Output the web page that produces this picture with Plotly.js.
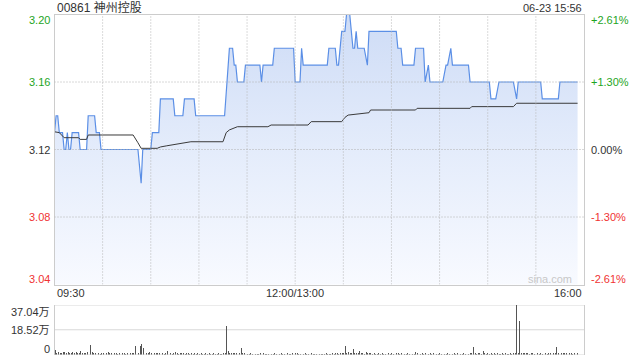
<!DOCTYPE html>
<html>
<head>
<meta charset="utf-8">
<script src="https://cdn.plot.ly/plotly-3.0.1.min.js"></script>
<style>html,body{margin:0;padding:0;background:#fff;}#chart{width:640px;height:360px;}</style>
</head>
<body>
<div id="chart"></div>
<script>
// ---- data ----
const stockTitle = "00861 神州控股";
const stampText = "06-23 15:56";
const prevClose = 3.12;

const priceTimes = ["09:30","09:31","09:32","09:33","09:35","09:36","09:37","09:38","09:39","09:40","09:41","09:45","09:46","09:50","09:51","09:55","09:56","09:58","09:59","10:22","10:24","10:25","10:30","10:31","10:35","10:36","10:44","10:45","10:50","10:51","10:57","10:58","11:16","11:19","11:21","11:22","11:23","11:24","11:28","11:29","11:38","11:39","11:40","11:46","11:47","11:59","12:00","13:03","13:04","13:05","13:19","13:20","13:21","13:25","13:26","13:27","13:29","13:31","13:32","13:34","13:36","13:37","13:38","13:39","13:43","13:45","13:46","14:03","14:04","14:06","14:07","14:14","14:15","14:20","14:21","14:23","14:24","14:32","14:34","14:35","14:37","14:38","14:48","14:49","15:01","15:02","15:05","15:07","15:16","15:18","15:19","15:33","15:34","15:44","15:45","15:56"];
const priceValues = [3.13,3.14,3.14,3.13,3.13,3.12,3.12,3.13,3.12,3.12,3.13,3.13,3.12,3.12,3.14,3.14,3.13,3.13,3.12,3.12,3.10,3.12,3.12,3.13,3.13,3.15,3.15,3.14,3.14,3.15,3.15,3.14,3.14,3.18,3.18,3.17,3.17,3.16,3.16,3.17,3.17,3.16,3.17,3.17,3.18,3.18,3.16,3.16,3.18,3.17,3.17,3.17,3.18,3.18,3.17,3.17,3.19,3.19,3.20,3.20,3.18,3.18,3.19,3.18,3.18,3.17,3.19,3.19,3.18,3.18,3.17,3.17,3.18,3.18,3.16,3.17,3.16,3.16,3.17,3.17,3.18,3.17,3.17,3.16,3.16,3.15,3.15,3.16,3.16,3.15,3.16,3.16,3.15,3.15,3.16,3.16];

const avgTimes = ["09:30","09:33","09:36","09:45","09:46","09:50","09:51","10:19","10:22","10:24","10:34","10:36","10:40","10:46","10:50","10:55","11:15","11:17","11:19","11:22","11:24","11:43","11:45","13:08","13:10","13:29","13:31","13:33","13:40","13:46","13:47","14:15","14:16","14:49","14:50","15:16","15:18","15:56"];
const avgValues = [3.1305,3.130,3.127,3.127,3.126,3.126,3.1286,3.1286,3.124,3.1207,3.1207,3.1215,3.1222,3.1230,3.1237,3.1246,3.1246,3.1300,3.1316,3.1325,3.1335,3.1335,3.1345,3.1345,3.1365,3.1365,3.139,3.1404,3.1412,3.1418,3.1434,3.1434,3.1444,3.1444,3.1454,3.1454,3.1474,3.1474];

// volume per minute (万), minute 0 = 09:30 ... 326 = 15:56
const volumes = [
3.3,1.2,2.0,1.5,0.8,2.2,1.6,1.0,1.8,1.3,
0.9,1.7,1.4,2.1,1.0,1.2,2.4,0.8,1.5,1.1,
1.6,1.3,7.0,1.8,0.9,1.4,2.0,1.1,0.7,1.5,
1.2,7.8,1.0,1.6,0.8,1.3,0.6,1.1,0.9,0.7,
1.0,0.6,0.8,1.2,0.7,0.9,0.5,1.1,0.8,1.4,
6.5,1.2,0.9,6.5,7.8,4.5,2.0,1.3,1.0,1.6,
1.1,2.8,0.9,1.4,0.8,1.2,2.8,1.0,0.7,1.5,
2.5,0.9,1.2,0.6,1.0,1.8,0.8,0.7,1.1,0.9,
1.3,0.6,0.8,1.0,0.5,0.9,0.7,1.2,0.6,0.8,
0.5,0.9,0.7,0.6,1.0,0.5,0.8,0.6,0.7,0.9,
0.6,0.5,0.8,0.7,0.6,0.9,1.2,21.6,2.8,1.0,
0.8,1.1,0.9,1.5,3.3,1.0,5.0,1.2,0.8,0.9,
0.7,0.6,0.9,0.5,0.8,0.6,0.7,0.5,0.9,0.6,
0.8,0.5,0.7,0.6,0.9,0.5,0.6,0.8,0.5,0.7,
0.6,0.9,0.5,0.7,0.6,0.8,0.5,0.6,0.9,1.0,
1.2,0.8,0.6,0.7,1.0,0.5,0.8,0.6,0.7,0.5,
0.9,0.6,0.7,0.5,0.8,0.6,0.5,0.7,0.6,0.8,
0.5,0.7,0.6,0.9,0.5,0.8,1.0,0.7,1.2,1.5,
1.0,6.5,1.3,2.0,1.1,0.9,4.0,1.2,0.8,1.5,
2.5,0.9,1.1,0.7,2.0,0.8,1.0,1.3,0.6,0.8,
0.7,0.5,0.9,0.6,0.8,0.5,0.7,0.6,0.9,0.5,
0.8,0.6,0.7,1.0,0.9,0.6,0.8,0.5,0.7,0.6,
0.9,0.5,0.8,0.6,0.7,2.0,0.9,0.6,0.5,0.8,
0.6,1.0,0.7,0.5,0.8,0.6,0.9,0.5,0.7,0.6,
0.8,0.5,0.9,0.7,0.6,0.8,0.5,0.7,0.6,0.9,
0.5,0.8,0.6,0.7,0.5,0.9,0.6,0.8,0.7,1.2,
0.9,5.8,1.0,0.7,0.8,1.1,0.6,2.8,0.9,0.7,
0.8,0.6,1.0,0.7,0.9,0.6,0.8,0.5,0.7,0.9,
0.6,0.8,0.5,0.7,0.9,0.6,1.2,0.8,37.04,1.0,
24.7,1.5,0.9,1.1,0.8,1.3,0.7,0.9,1.0,0.6,
0.8,1.1,0.7,0.9,0.6,1.0,0.8,0.7,1.2,0.9,
0.6,0.8,1.0,5.3,1.2,10.8,1.4,0.9,1.1,0.8,
0.7,1.0,0.9,0.6,1.2,0.8,1.0];

const priceTicks = [3.04, 3.08, 3.12, 3.16, 3.20];
const pctTicks = ["-2.61%", "-1.30%", "0.00%", "+1.30%", "+2.61%"];
const volTicks = [0, 18.52, 37.04];
const volTickText = ["0", "18.52万", "37.04万"];
const timeTickText = ["09:30", "12:00/13:00", "16:00"];
const timeTickPos = [0, 150, 330];
const gridTimes = [30, 60, 90, 120, 150, 180, 210, 240, 270, 300];

// ---- helpers ----
function toIdx(t) {
  const p = t.split(":").map(Number);
  const mins = p[0] * 60 + p[1];
  return mins <= 720 ? mins - 570 : 150 + (mins - 780);
}
const W = 640, H = 360;
const px = v => v / W;
const py = v => 1 - v / H;
const X0 = 54.5, X1 = 584;
const FONT = "Liberation Sans, Arial, Noto Sans CJK SC, sans-serif";
const GREEN = "#1ea51e", RED = "#f03333", DARK = "#333333";

const priceX = priceTimes.map(toIdx);
const avgX = avgTimes.map(toIdx);
const volX = volumes.map((v, i) => i);

const traces = [
  {
    type: "scatter", mode: "lines", x: priceX, y: priceValues,
    line: { color: "#5b8fe6", width: 1.2 },
    fill: "tozeroy",
    fillgradient: { type: "vertical", start: 3.04, stop: 3.20,
      colorscale: [[0, "rgb(248,250,255)"], [0.5, "rgb(228,236,251)"], [1, "rgb(206,220,246)"]] },
    hoverinfo: "skip", xaxis: "x", yaxis: "y"
  },
  {
    type: "scatter", mode: "lines", x: avgX, y: avgValues,
    line: { color: "#3a3a3a", width: 1 },
    hoverinfo: "skip", xaxis: "x", yaxis: "y"
  },
  {
    type: "bar", x: volX, y: volumes, width: 0.55,
    marker: { color: "#555555", line: { width: 0 } },
    hoverinfo: "skip", xaxis: "x2", yaxis: "y2"
  }
];

const annotations = [];
function ann(o) { annotations.push(Object.assign({ showarrow: false, font: { family: FONT, size: 11, color: DARK } }, o)); }

ann({ text: stockTitle, xref: "paper", yref: "paper", x: px(55), y: py(8), xanchor: "left", yanchor: "middle", font: { family: FONT, size: 12, color: DARK } });
ann({ text: stampText, xref: "paper", yref: "paper", x: px(584), y: py(8), xanchor: "right", yanchor: "middle", font: { family: FONT, size: 11, color: DARK } });

priceTicks.forEach((v, i) => {
  const col = v > prevClose ? GREEN : (v < prevClose ? RED : DARK);
  const shift = i === priceTicks.length - 1 ? -6 : (i === 0 ? 6 : 0);
  ann({ text: v.toFixed(2), xref: "paper", yref: "y", x: px(X0 - 3), y: v, yshift: shift, xanchor: "right", yanchor: "middle", font: { family: FONT, size: 11, color: col } });
  ann({ text: pctTicks[i], xref: "paper", yref: "y", x: px(X1 + 5), y: v, yshift: shift, xanchor: "left", yanchor: "middle", font: { family: FONT, size: 11, color: col } });
});

timeTickText.forEach((t, i) => {
  const anchor = i === 0 ? "left" : (i === timeTickText.length - 1 ? "right" : "center");
  ann({ text: t, xref: "x", yref: "paper", x: timeTickPos[i], y: py(293), xanchor: anchor, yanchor: "middle" });
});

volTicks.forEach((v, i) => {
  const shift = i === 0 ? 6 : (i === volTicks.length - 1 ? -7 : 0);
  ann({ text: volTickText[i], xref: "paper", yref: "y2", x: px(X0 - 3), y: v, yshift: shift, xanchor: "right", yanchor: "middle" });
});

ann({ text: "sina.com", xref: "paper", yref: "paper", x: px(574), y: py(279), xanchor: "right", yanchor: "middle", font: { family: FONT, size: 11, color: "#c8c8c8" } });

// dotted grid drawn above the fill, like the reference
const shapes = [];
gridTimes.forEach(t => shapes.push({
  type: "line", layer: "above", xref: "x", yref: "y", x0: t, x1: t, y0: 3.04, y1: 3.20,
  line: { color: "#b6b6b6", width: 1, dash: "1px,2px" }
}));
[3.08, 3.12, 3.16].forEach(v => shapes.push({
  type: "line", layer: "above", xref: "x", yref: "y", x0: 0, x1: 330, y0: v, y1: v,
  line: { color: "#b0b0b0", width: 1, dash: "1px,2px" }
}));
volTicks.forEach(v => shapes.push({
  type: "line", layer: "below", xref: "x2", yref: "y2", x0: -0.5, x1: 330, y0: v, y1: v,
  line: { color: "#b0b0b0", width: 1, dash: "1px,1px" }
}));

const layout = {
  width: W, height: H,
  margin: { l: 0, r: 0, t: 0, b: 0, pad: 0 },
  paper_bgcolor: "#ffffff", plot_bgcolor: "#ffffff",
  showlegend: false,
  bargap: 0,
  xaxis: {
    domain: [px(X0), px(X1)], range: [0, 330], anchor: "y",
    showticklabels: false, ticks: "", showgrid: false,
    showline: true, mirror: true, linecolor: "#cccccc", linewidth: 1,
    zeroline: false, fixedrange: true
  },
  yaxis: {
    domain: [py(284.5), py(14.5)], range: [3.04, 3.20], anchor: "x",
    showticklabels: false, ticks: "", showgrid: false,
    showline: true, mirror: true, linecolor: "#cccccc", linewidth: 1,
    zeroline: false, fixedrange: true
  },
  xaxis2: {
    domain: [px(X0), px(X1)], range: [-0.5, 330], anchor: "y2",
    showticklabels: false, ticks: "", showgrid: false, showline: false,
    zeroline: false, fixedrange: true
  },
  yaxis2: {
    domain: [py(354.5), py(305)], range: [0, 37.04], anchor: "x2",
    showticklabels: false, ticks: "", showgrid: false,
    showline: true, mirror: true, linecolor: "#cccccc", linewidth: 1,
    zeroline: false, fixedrange: true
  },
  shapes: shapes,
  annotations: annotations
};

Plotly.newPlot("chart", traces, layout, { staticPlot: true, displayModeBar: false });
</script>
</body>
</html>
